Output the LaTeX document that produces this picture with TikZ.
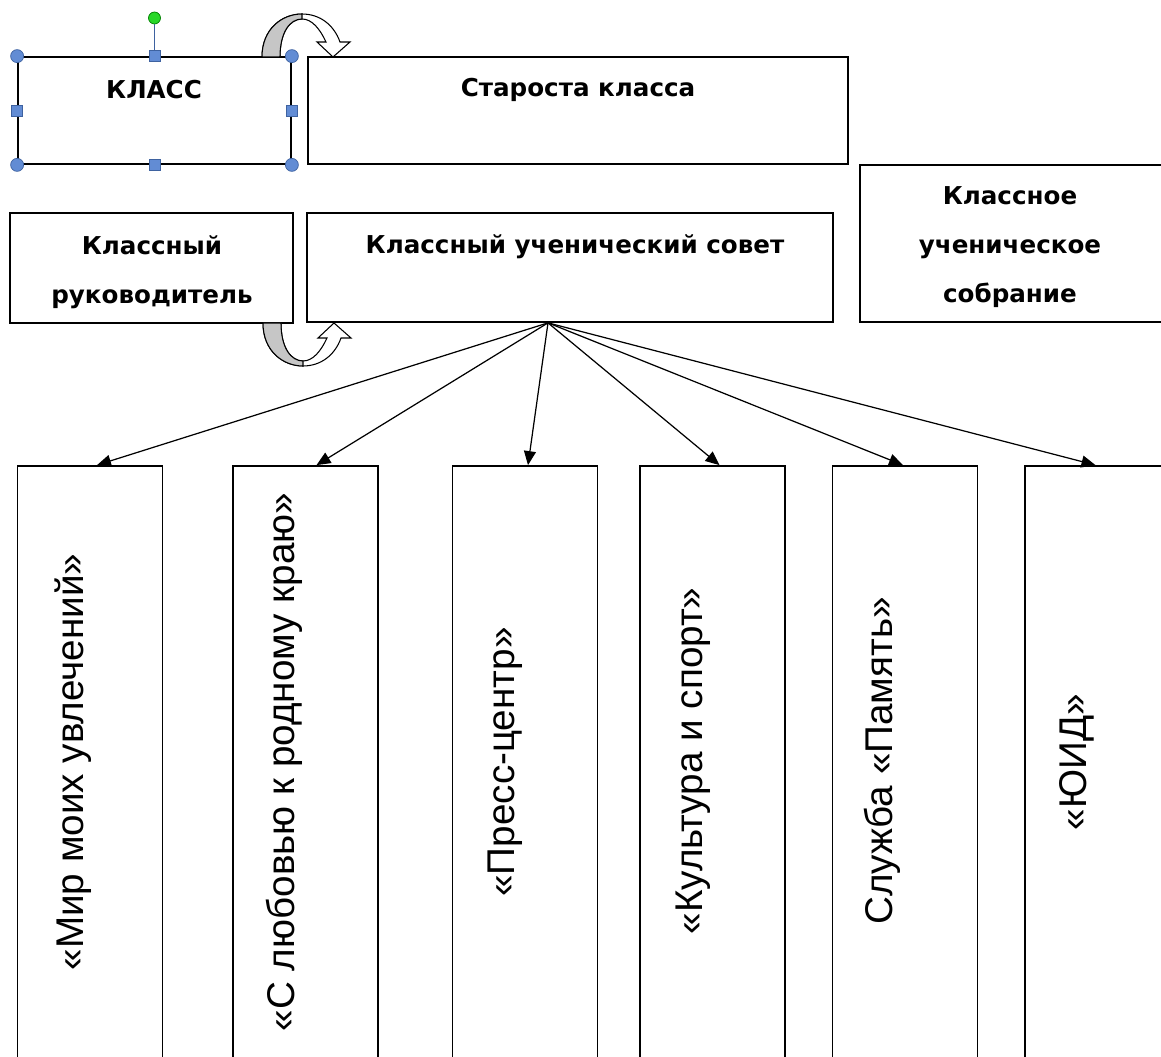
\documentclass[tikz,border=0pt]{standalone}
\usepackage{fontspec}
\setmainfont{Liberation Sans}
\newfontfamily\boxfont{DejaVu Sans}
\usepackage{xcolor}
\usetikzlibrary{arrows.meta,calc}
\definecolor{handle}{RGB}{98,140,212}
\definecolor{handleline}{RGB}{62,98,160}
\definecolor{rotgreen}{RGB}{40,215,40}
\newcommand\pxu{0.02cm}

\begin{document}
\begin{tikzpicture}[
      x=\pxu, y=-\pxu,
      box/.style={
          rectangle, draw=black, fill=white,
          line width=1pt, inner sep=0pt
      },
      grp/.style={box, minimum width=145*\pxu, minimum height=604*\pxu},
      head/.style={
          font=\boxfont\bfseries\fontsize{14}{28}\selectfont,
          align=center, inner sep=0pt
      },
      vlab/.style={font=\fontsize{22}{26}\selectfont, rotate=90, inner sep=0pt},
      link/.style={-{Triangle[length=2.8mm,width=2.4mm]}, line width=0.7pt},
      hround/.style={
          circle, draw=handleline, fill=handle, line width=0.4pt,
          minimum size=13*\pxu, inner sep=0pt
      },
      hsquare/.style={
          rectangle, draw=handleline, fill=handle, line width=0.4pt,
          minimum size=11*\pxu, inner sep=0pt
      },
      hrot/.style={
          circle, draw=green!50!black, fill=rotgreen, line width=0.4pt,
          minimum size=12*\pxu, inner sep=0pt
      },
      turnarrow/.pic={
          \filldraw[fill=white, line width=0.6pt]
              (0,0) .. controls (0,-28) and (20,-43) .. (40,-43)
              .. controls (58,-43) and (72,-32) .. (78,-15)
              -- (88,-15) -- (71,0) -- (55,-15) -- (64,-15)
              .. controls (58,-28) and (50,-38) .. (40,-38)
              .. controls (28,-38) and (18,-25) .. (18,0) -- cycle;
          \filldraw[fill=gray!45, line width=0.6pt]
              (0,0) .. controls (0,-28) and (20,-43) .. (40,-43)
              -- (40,-38) .. controls (28,-38) and (18,-25) .. (18,0) -- cycle;
      }
  ]

  \useasboundingbox (0,0) rectangle (1161,1057);
  \clip (0,0) rectangle (1161,1057);

  % top row
  \node[box, minimum width=273*\pxu, minimum height=107*\pxu] (klass) at (154.5,110.5) {};
  \node[head] (tklass) at (154,90) {КЛАСС};
  \node[box, minimum width=540*\pxu, minimum height=107*\pxu] (starosta) at (578,110.5) {};
  \node[head] (tstarosta) at (578,90) {Староста класса};

  % second row
  \node[box, minimum width=283*\pxu, minimum height=110*\pxu] (ruk) at (151.5,268) {};
  \node[head] (truk) at (152,272) {Классный\\руководитель};
  \node[box, minimum width=526*\pxu, minimum height=109*\pxu] (sovet) at (570,267.5) {};
  \node[head] (tsovet) at (575,247) {Классный ученический совет};
  \node[box, minimum width=310*\pxu, minimum height=157*\pxu] (sobr) at (1015,243.5) {};
  \node[head] (tsobr) at (1010,247) {Классное\\ученическое\\собрание};

  % selection handles of the first box
  \foreach \a/\name in {north west/hnw, north east/hne, south west/hsw, south east/hse}{
      \node[hround] (\name) at (klass.\a) {};
  }
  \foreach \a/\name in {north/hn, south/hs, west/hw, east/he}{
      \node[hsquare] (\name) at (klass.\a) {};
  }
  \node[hrot] (hr) at (154.5,18) {};
  \draw[handleline, line width=0.6pt] (hr) -- (hn);

  % curved arrows
  \pic at (262,57) {turnarrow};
  \pic[yscale=-1] at (263,323) {turnarrow};

  % groups
  \foreach \x/\name in {90/g1, 305.5/g2, 525/g3, 712.5/g4, 905/g5, 1097.5/g6}{
      \node[grp] (\name) at (\x,768) {};
  }
  \node[vlab] (l1) at (73,762) {«Мир моих увлечений»};
  \node[vlab] (l2) at (284,762) {«С любовью к родному краю»};
  \node[vlab] (l3) at (505,762) {«Пресс-центр»};
  \node[vlab] (l4) at (693,761) {«Культура и спорт»};
  \node[vlab] (l5) at (882,761) {Служба «Память»};
  \node[vlab] (l6) at (1077,762) {«ЮИД»};

  \coordinate (hub) at ($(sovet.south)+(-22,0)$);
  \foreach \name/\dx in {g1/7, g2/11, g3/3, g4/7, g5/-2, g6/-2}{
      \draw[link] (hub) -- ($(\name.north)+(\dx,0)$);
  }
\end{tikzpicture}
\end{document}
